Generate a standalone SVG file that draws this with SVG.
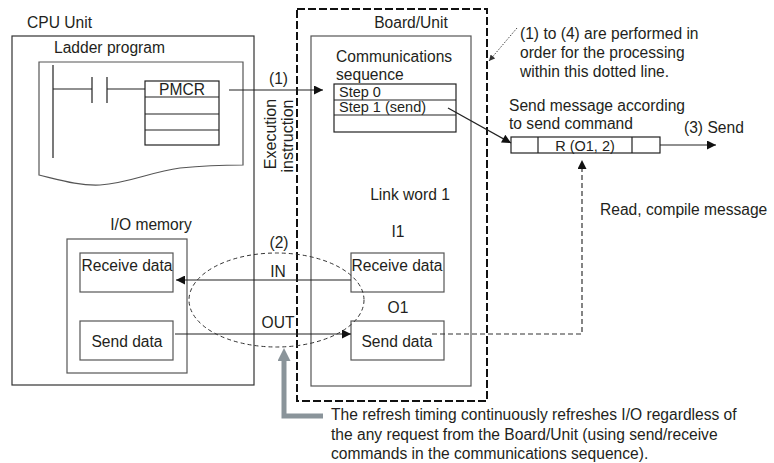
<svg xmlns="http://www.w3.org/2000/svg" width="774" height="463" viewBox="0 0 774 463">
<defs>
<style>
text{font-family:"Liberation Sans",Arial,sans-serif;font-size:15.6px;fill:#231f20}
.sm{font-size:14.5px}
.box{fill:#fff;stroke:#333;stroke-width:1.2}
.gbox{fill:#fff;stroke:#555;stroke-width:1.2}
.ln{fill:none;stroke:#222;stroke-width:1.2}
.dash{fill:none;stroke:#333;stroke-width:1.2;stroke-dasharray:5,3}
.mid{text-anchor:middle}
</style>
<marker id="ah" viewBox="0 0 10 10" refX="10" refY="5" markerWidth="10" markerHeight="9" markerUnits="userSpaceOnUse" orient="auto"><path d="M0,0 L10,5 L0,10 z" fill="#111"/></marker>
<marker id="ahs" viewBox="0 0 10 10" refX="10" refY="5" markerWidth="7" markerHeight="6" markerUnits="userSpaceOnUse" orient="auto"><path d="M0,0 L10,5 L0,10 z" fill="#333"/></marker>
<marker id="ahg" viewBox="0 0 10 10" refX="10" refY="5" markerWidth="18" markerHeight="13" markerUnits="userSpaceOnUse" orient="auto"><path d="M0,0 L10,5 L0,10 z" fill="#8a949a"/></marker>
</defs>

<g id="cpu-unit">
<text x="27" y="28">CPU Unit</text>
<rect class="box" x="12" y="36" width="242" height="349"/>
</g>

<g id="ladder-program">
<text x="54" y="53">Ladder program</text>
<path class="gbox" d="M39,62 H243 V165 C225,165 200,166 180,168 C150,172 130,183 100,185 C80,186 60,180 39,175 Z"/>
<path class="ln" d="M53,65 V158 M53,89 H92 M92,77 V103 M107,77 V103 M107,89 H145"/>
<rect class="ln" x="145" y="81" width="74" height="64"/>
<path class="ln" d="M145,97 H219 M145,114 H219 M145,130 H219"/>
<text class="mid" x="182" y="95">PMCR</text>
</g>

<g id="io-memory">
<text class="mid" x="151" y="230">I/O memory</text>
<rect class="gbox" x="67" y="239" width="120" height="134"/>
</g>

<g id="cpu-receive-data">
<rect class="gbox" x="80" y="253" width="93" height="39"/>
<text class="mid" x="127" y="271">Receive data</text>
</g>

<g id="cpu-send-data">
<rect class="gbox" x="80" y="321" width="93" height="39"/>
<text class="mid" x="127" y="347">Send data</text>
</g>

<g id="board-unit">
<rect x="297" y="9" width="190" height="392" fill="none" stroke="#111" stroke-width="2" stroke-dasharray="8,3"/>
<text class="mid" x="411" y="28">Board/Unit</text>
<rect class="gbox" x="311" y="36" width="160" height="350"/>
<text x="336" y="62">Communications</text>
<text x="336" y="80">sequence</text>
<text class="mid" x="410" y="200">Link word 1</text>
<text class="mid" x="398" y="237">I1</text>
<text class="mid" x="398" y="313">O1</text>
</g>

<g id="comm-sequence-table">
<rect class="ln" x="334" y="84" width="122" height="48"/>
<path class="ln" d="M334,100 H456 M334,115 H456"/>
<text class="sm" x="339" y="97">Step 0</text>
<text class="sm" x="339" y="112">Step 1 (send)</text>
</g>

<g id="board-receive-data">
<rect class="gbox" x="351" y="253" width="93" height="39"/>
<text class="mid" x="397" y="271">Receive data</text>
</g>

<g id="board-send-data">
<rect class="gbox" x="351" y="321" width="93" height="39"/>
<text class="mid" x="397" y="347">Send data</text>
</g>

<g id="send-message">
<text x="509" y="111">Send message according</text>
<text x="509" y="129">to send command</text>
<rect class="ln" x="511" y="137" width="149" height="16"/>
<path class="ln" d="M538,137 V153 M632,137 V153"/>
<text class="mid" x="585" y="151" style="font-size:14.5px">R (O1, 2)</text>
</g>

<g id="note">
<text x="520" y="39">(1) to (4) are performed in</text>
<text x="520" y="58">order for the processing</text>
<text x="520" y="77">within this dotted line.</text>
</g>

<g id="refresh-note">
<text x="331" y="420">The refresh timing continuously refreshes I/O regardless of</text>
<text x="331" y="440">the any request from the Board/Unit (using send/receive</text>
<text x="331" y="459">commands in the communications sequence).</text>
</g>

<g id="connectors">
<line class="ln" x1="229" y1="90" x2="323" y2="90" marker-end="url(#ah)"/>
<text x="269" y="84">(1)</text>
<text class="mid" transform="translate(276,134) rotate(-90)" style="font-size:16px">Execution</text>
<text class="mid" transform="translate(293,136) rotate(-90)" style="font-size:16px">instruction</text>
<line class="ln" x1="448" y1="108" x2="511" y2="143" marker-end="url(#ah)"/>
<line class="ln" x1="660" y1="145" x2="716" y2="145" marker-end="url(#ah)"/>
<text x="684" y="133">(3) Send</text>
<line x1="517" y1="28" x2="489" y2="61" stroke="#444" stroke-width="1" stroke-dasharray="1.5,1.5" marker-end="url(#ahs)"/>
<path class="dash" d="M432,334 H582 V162"/>
<line x1="582" y1="170" x2="582" y2="160" stroke="none" marker-end="url(#ah)"/>
<text x="600" y="215">Read, compile message</text>
<line class="ln" x1="351" y1="280" x2="176" y2="280" marker-end="url(#ah)"/>
<line class="ln" x1="175" y1="334" x2="351" y2="334" marker-end="url(#ah)"/>
<text class="mid" x="278" y="277">IN</text>
<text class="mid" x="278" y="328">OUT</text>
<text class="mid" x="279" y="248">(2)</text>
<ellipse cx="276.5" cy="300" rx="87.5" ry="47" fill="none" stroke="#333" stroke-width="1" stroke-dasharray="4,3"/>
<path d="M323,416 H284 V360" fill="none" stroke="#8a949a" stroke-width="5"/>
<line x1="284" y1="366" x2="284" y2="348" stroke="none" marker-end="url(#ahg)"/>
</g>
</svg>
